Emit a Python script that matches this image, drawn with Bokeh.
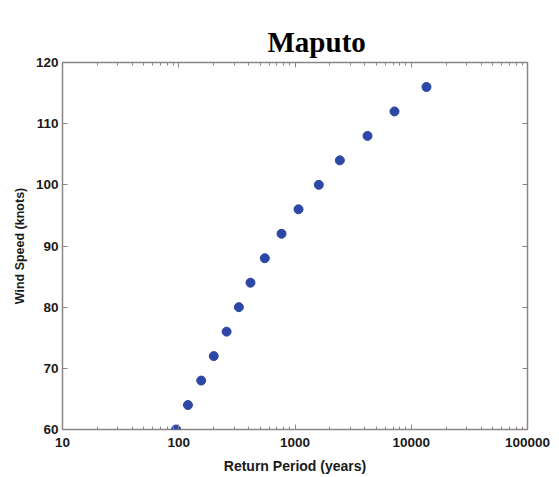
from bokeh.plotting import figure
from bokeh.models import LogAxis, LinearAxis, FixedTicker, Range1d, ColumnDataSource, Title
from bokeh.embed import file_html
from bokeh.resources import INLINE

# data
return_period = [95, 120, 156, 200, 258, 329, 414, 550, 766, 1072, 1603, 2431, 4206, 7178, 13520]
wind_speed = [60, 64, 68, 72, 76, 80, 84, 88, 92, 96, 100, 104, 108, 112, 116]

x_ticks = [10, 100, 1000, 10000, 100000]
x_tick_labels = ["10", "100", "1000", "10000", "100000"]
y_ticks = [60, 70, 80, 90, 100, 110, 120]
title_text = "Maputo"

FRAME = "#8b8585"
TXT = "#1a1a1a"

src = ColumnDataSource(data=dict(years=return_period, speed=wind_speed))

p = figure(width=559, height=477, x_axis_type="log",
           x_range=Range1d(10, 100000), y_range=Range1d(60, 120),
           output_backend="svg", toolbar_location=None,
           min_border_left=62, min_border_right=32,
           min_border_top=62, min_border_bottom=48,
           background_fill_color="white", border_fill_color="white")

p.title.text = ""
p.title.visible = False

p.xgrid.visible = False
p.ygrid.visible = False
p.outline_line_color = FRAME
p.outline_line_width = 1.5

minor = [m * 10 ** k for k in range(1, 5) for m in range(2, 10)]
xt = FixedTicker(ticks=x_ticks, minor_ticks=minor)
yt = FixedTicker(ticks=y_ticks)
overrides = {float(t): l for t, l in zip(x_ticks, x_tick_labels)}


def style(ax, show_labels=True):
    ax.axis_line_color = None
    ax.major_tick_in = 5
    ax.major_tick_out = 0
    ax.minor_tick_in = 3
    ax.minor_tick_out = 0
    ax.major_tick_line_color = FRAME
    ax.minor_tick_line_color = FRAME
    ax.major_label_text_font = "Liberation Sans"
    ax.major_label_text_font_style = "bold"
    ax.major_label_text_color = TXT
    if show_labels:
        ax.major_label_text_font_size = "13.5px"
    else:
        ax.major_label_text_font_size = "1px"
        ax.major_label_text_alpha = 0
        ax.major_label_standoff = 0


xa = p.xaxis[0]
xa.ticker = xt
xa.major_label_overrides = overrides
style(xa)
xa.major_label_standoff = 8
xa.axis_label = "Return Period (years)"
xa.axis_label_text_font = "Liberation Sans"
xa.axis_label_text_font_style = "bold"
xa.axis_label_text_font_size = "14px"
xa.axis_label_text_color = TXT
xa.axis_label_standoff = 8

ya = p.yaxis[0]
ya.ticker = yt
style(ya)
ya.minor_tick_in = 0
ya.major_label_standoff = 4
ya.axis_label = "Wind Speed (knots)"
ya.axis_label_text_font = "Liberation Sans"
ya.axis_label_text_font_style = "bold"
ya.axis_label_text_font_size = "12.5px"
ya.axis_label_text_color = TXT
ya.axis_label_standoff = 6

top = LogAxis(ticker=xt)
style(top, show_labels=False)
top.major_label_standoff = 17
p.add_layout(top, "above")

right = LinearAxis(ticker=yt)
style(right, show_labels=False)
right.minor_tick_in = 0
p.add_layout(right, "right")

t = Title(text=title_text, align="left", offset=205, standoff=10,
          text_font="Liberation Serif", text_font_size="29px",
          text_font_style="bold", text_color="black")
p.add_layout(t, "above")

p.scatter(x="years", y="speed", source=src, size=9,
          fill_color="#2c47a5", line_color="#2c47a5")

open("out.html", "w").write(file_html(p, INLINE))
